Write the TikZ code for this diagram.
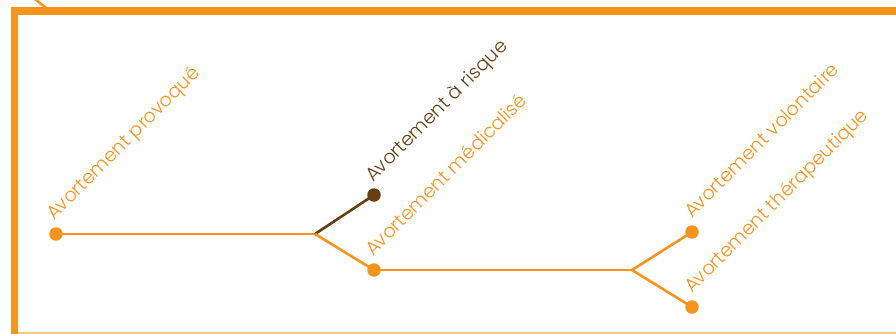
\documentclass[tikz,border=0pt]{standalone}
\usepackage{fontspec}
\setmainfont{Poppins}[UprightFont={* Light}]
\definecolor{orng}{RGB}{247,148,29}
\definecolor{brwn}{RGB}{102,62,16}
\definecolor{lightorng}{RGB}{251,200,140}
\begin{document}
\begin{tikzpicture}[x=1pt,y=-1pt,
  dot/.style={circle,fill=#1,draw=none,minimum size=13.5pt,inner sep=0pt},
  lbl/.style={rotate=45,anchor=base west,inner sep=0pt,text=#1,font=\fontsize{19}{19}\selectfont},
  conn/.style={draw=#1,line width=2.6pt}]
\useasboundingbox (0,0) rectangle (896,334);
% frame
\fill[orng] (11,7) rectangle (896,15);
\fill[orng] (11,7) rectangle (18,334);
\draw[lightorng,line width=1.5pt] (18,333.2) -- (896,333.2);
\coordinate (d0) at (35,-1);
\coordinate (d1) at (46,8);
\draw[orng,line width=2.5pt] (d0) -- (d1);
% dots
\node[dot=orng] (prov) at (56,234) {};
\coordinate (b1) at (315,234);
\node[dot=brwn] (risq) at (374,195) {};
\node[dot=orng] (medi) at (374,270) {};
\coordinate (b2) at (632,270);
\node[dot=orng] (volo) at (692,232) {};
\node[dot=orng] (ther) at (692,307) {};
% connectors
\draw[conn=orng] (prov.center) -- (b1);
\draw[conn=brwn] (b1) -- (risq.center);
\draw[conn=orng] (b1) -- (medi.center);
\draw[conn=orng] (medi.center) -- (b2);
\draw[conn=orng] (b2) -- (volo.center);
\draw[conn=orng] (b2) -- (ther.center);
% labels
\node[lbl=orng] (lprov) at (54,221) {Avortement provoqué};
\node[lbl=brwn] (lrisq) at (373,183) {Avortement à risque};
\node[lbl=orng] (lmedi) at (373,257) {Avortement médicalisé};
\node[lbl=orng] (lvolo) at (692,219) {Avortement volontaire};
\node[lbl=orng] (lther) at (692,294) {Avortement thérapeutique};
\end{tikzpicture}
\end{document}
